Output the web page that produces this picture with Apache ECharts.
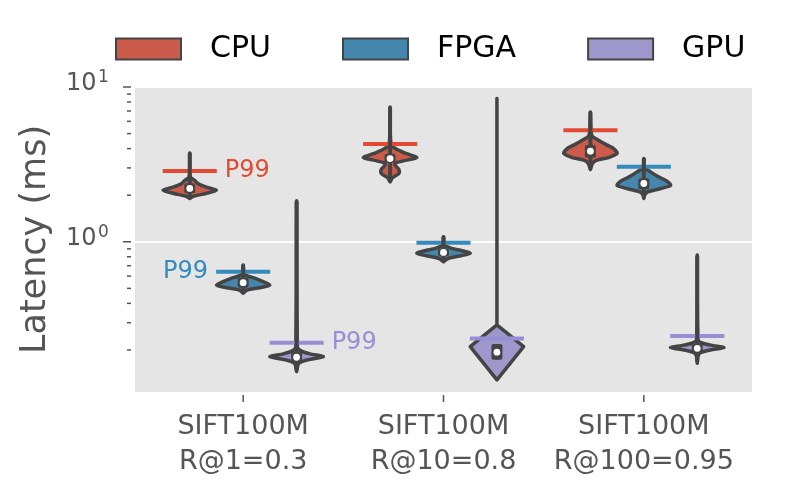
<!DOCTYPE html>
<html><head><meta charset="utf-8">
<script src="https://cdn.jsdelivr.net/npm/echarts@6/dist/echarts.min.js"></script>
<style>html,body{margin:0;padding:0;background:#fff}#c{width:788px;height:493px}</style>
</head><body><div id="c"></div>
<script>
// ---------- data ----------
const categories = ['SIFT100M\nR@1=0.3', 'SIFT100M\nR@10=0.8', 'SIFT100M\nR@100=0.95'];
const hues = ['CPU', 'FPGA', 'GPU'];
const xTicks = [0, 1, 2];
const yMajorTicks = [1, 10];
const yMajorExponents = ['0', '1'];
const yMinorTicks = [0.2, 0.3, 0.4, 0.5, 0.6, 0.7, 0.8, 0.9, 2, 3, 4, 5, 6, 7, 8, 9];

// violin outlines: [latency (ms), relative density]
const cpuProfiles = [
  [[3.75,0],[2.63,0.02],[2.5,0.18],[2.38,0.3],[2.26,0.6],[2.155,1],[2.05,0.6],[1.97,0.15],[1.905,0]],
  [[7.43,0],[4.31,0.03],[4.0,0.2],[3.72,0.6],[3.5,1],[3.33,0.5],[3.21,0.18],[3.08,0.22],[2.93,0.33],[2.76,0.33],[2.6,0.1],[2.44,0]],
  [[6.9,0],[4.88,0.05],[4.53,0.3],[4.21,0.63],[4.0,0.87],[3.72,1],[3.5,0.68],[3.37,0.25],[3.21,0.08],[2.93,0]]
];
const fpgaProfiles = [
  [[0.707,0],[0.657,0.02],[0.61,0.1],[0.58,0.45],[0.552,0.75],[0.525,1],[0.508,0.7],[0.488,0.15],[0.465,0]],
  [[1.077,0],[0.952,0.04],[0.906,0.3],[0.875,0.7],[0.842,1],[0.809,0.6],[0.777,0.15],[0.743,0]],
  [[3.45,0],[3.02,0.03],[2.83,0.25],[2.63,0.55],[2.44,0.9],[2.31,1],[2.2,0.6],[2.1,0.15],[2.0,0.03],[1.905,0]]
];
const gpuProfiles = [
  [[1.84,0],[0.21,0.03],[0.198,0.15],[0.1886,0.5],[0.181,1],[0.1725,0.4],[0.164,0.08],[0.145,0]],
  [[8.42,0],[0.29,0],[0.21,1],[0.128,0]],
  [[0.821,0],[0.232,0.03],[0.221,0.2],[0.2134,0.6],[0.207,1],[0.2,0.5],[0.192,0.12],[0.183,0.03],[0.164,0]]
];
const cpuMedian = [2.21, 3.45, 3.85];
const fpgaMedian = [0.544, 0.854, 2.38];
const gpuMedian = [0.1795, 0.1934, 0.205];
const cpuQuartiles = [[2.12, 2.32], [3.35, 3.6], [3.6, 4.1]];
const fpgaQuartiles = [[0.52, 0.57], [0.83, 0.875], [2.25, 2.5]];
const gpuQuartiles = [[0.173, 0.188], [0.178, 0.212], [0.198, 0.212]];
const cpuWhiskers = [[1.95, 3.7], [2.5, 7.3], [3.0, 6.8]];
const fpgaWhiskers = [[0.47, 0.70], [0.75, 1.07], [1.95, 3.4]];
const gpuWhiskers = [[0.15, 1.8], [0.178, 0.212], [0.17, 0.8]];
const cpuP99 = [2.87, 4.29, 5.26];
const fpgaP99 = [0.64, 0.985, 3.05];
const gpuP99 = [0.223, 0.237, 0.246];
const p99LabelText = 'P99';

// ---------- styling ----------
const profiles = [cpuProfiles, fpgaProfiles, gpuProfiles];
const medians = [cpuMedian, fpgaMedian, gpuMedian];
const quartiles = [cpuQuartiles, fpgaQuartiles, gpuQuartiles];
const whiskers = [cpuWhiskers, fpgaWhiskers, gpuWhiskers];
const p99s = [cpuP99, fpgaP99, gpuP99];
const fills = ['#CB5B4A', '#4586AC', '#9E97CC'];
const lineColors = ['#E24A33', '#348ABD', '#988ED5'];
const edge = '#444444';
const tickColor = '#555555';
const hueOffsets = [-0.2667, 0, 0.2667];
const halfWidth = 0.1333;
const p99Half = 0.135;
const labelSide = [1, -1, 1];
const FONT = '"DejaVu Sans", sans-serif';

function makeSeries(h) {
  return {
    type: 'custom',
    name: hues[h],
    itemStyle: { color: fills[h] },
    data: categories.map((c, g) => [g]),
    encode: { x: 0 },
    clip: false,
    renderItem: function (params, api) {
      const g = params.dataIndex;
      const cx = g + hueOffsets[h];
      const prof = profiles[h][g];
      const right = prof.map(p => api.coord([cx + p[1] * halfWidth, p[0]]));
      const left = prof.slice().reverse().map(p => api.coord([cx - p[1] * halfWidth, p[0]]));
      const pts = right.concat(left);
      const p = p99s[h][g];
      const pL = api.coord([cx - p99Half, p]);
      const pR = api.coord([cx + p99Half, p]);
      const w = whiskers[h][g];
      const wT = api.coord([cx, w[1]]), wB = api.coord([cx, w[0]]);
      const q = quartiles[h][g];
      const qT = api.coord([cx, q[1]]), qB = api.coord([cx, q[0]]);
      const m = api.coord([cx, medians[h][g]]);
      const children = [
        { type: 'polygon', shape: { points: pts, smooth: prof.length > 4 ? 0.25 : 0 },
          style: { fill: fills[h], stroke: edge, lineWidth: 3.5, lineJoin: 'round' } },
        { type: 'line', shape: { x1: pL[0], y1: pL[1], x2: pR[0], y2: pR[1] },
          style: { stroke: lineColors[h], lineWidth: 4 } },
        { type: 'line', shape: { x1: wT[0], y1: wT[1], x2: wB[0], y2: wB[1] },
          style: { stroke: edge, lineWidth: 4, lineCap: 'round' } },
        { type: 'rect', shape: { x: qT[0] - 5.5, y: qT[1] - 2, width: 11, height: qB[1] - qT[1] + 4, r: 2 },
          style: { fill: edge } },
        { type: 'circle', shape: { cx: m[0], cy: m[1], r: 3.4 }, style: { fill: '#ffffff' } }
      ];
      if (g === 0) {
        const s = labelSide[h];
        children.push({
          type: 'text',
          x: s > 0 ? pR[0] + 8 : pL[0] - 8,
          y: pR[1],
          style: { text: p99LabelText, fill: lineColors[h], font: '24px ' + FONT,
                   align: s > 0 ? 'left' : 'right', verticalAlign: 'middle' }
        });
      }
      return { type: 'group', children: children };
    }
  };
}

// y major ticks with "10^n" labels
const yMajorSeries = {
  type: 'custom', name: 'yMajor', silent: true, clip: false,
  data: yMajorTicks.map((v, i) => [0, v, i]),
  encode: { x: 0, y: 1 },
  renderItem: function (params, api) {
    const y = api.coord([0, api.value(1)])[1];
    const x0 = params.coordSys.x - 4;
    const exp = yMajorExponents[api.value(2)];
    return { type: 'group', children: [
      { type: 'line', shape: { x1: x0 - 8, y1: y, x2: x0, y2: y },
        style: { stroke: tickColor, lineWidth: 1.5 } },
      { type: 'text', x: x0 - 33, y: y - 9,
        style: { text: exp, fill: '#555', font: '17px ' + FONT, align: 'left', verticalAlign: 'middle' } },
      { type: 'text', x: x0 - 34.5, y: y - 3,
        style: { text: '10', fill: '#555', font: '24px ' + FONT, align: 'right', verticalAlign: 'middle' } }
    ] };
  }
};
// y minor ticks
const yMinorSeries = {
  type: 'custom', name: 'yMinor', silent: true, clip: false,
  data: yMinorTicks.map(v => [0, v]),
  encode: { x: 0, y: 1 },
  renderItem: function (params, api) {
    const y = api.coord([0, api.value(1)])[1];
    const x0 = params.coordSys.x - 4;
    return { type: 'line', shape: { x1: x0 - 4, y1: y, x2: x0, y2: y },
             style: { stroke: tickColor, lineWidth: 1.5 } };
  }
};
const xTickSeries = {
  type: 'custom', name: 'xTicks', silent: true, clip: false,
  data: xTicks.map(v => [v, 1]),
  encode: { x: 0, y: 1 },
  renderItem: function (params, api) {
    const x = api.coord([api.value(0), 1])[0];
    const y0 = params.coordSys.y + params.coordSys.height + 3;
    return { type: 'line', shape: { x1: x, y1: y0, x2: x, y2: y0 + 7 },
             style: { stroke: tickColor, lineWidth: 1.5 } };
  }
};

const chart = echarts.init(document.getElementById('c'), null, { renderer: 'canvas' });
chart.setOption({
  animation: false,
  backgroundColor: '#ffffff',
  textStyle: { fontFamily: FONT },
  legend: {
    top: 34, left: 115, padding: 0,
    icon: 'rect', itemWidth: 65, itemHeight: 21, itemGap: 71,
    itemStyle: { borderColor: edge, borderWidth: 2 },
    textStyle: { fontSize: 30, color: '#000', fontFamily: FONT, padding: [0, 0, 0, 24] },
    data: hues
  },
  grid: { left: 135, right: 36, top: 87, bottom: 101, show: true, backgroundColor: '#E5E5E5', borderWidth: 0 },
  xAxis: {
    type: 'value', min: -0.54, max: 2.54,
    axisLine: { show: false },
    splitLine: { show: false },
    axisTick: { show: false, customValues: xTicks },
    axisLabel: {
      customValues: xTicks,
      formatter: v => categories[Math.round(v)],
      color: '#555', fontSize: 27, lineHeight: 35, margin: 17, fontFamily: FONT
    }
  },
  yAxis: {
    type: 'log', min: 0.107, max: 10,
    name: 'Latency (ms)', nameLocation: 'middle', nameGap: 82,
    nameTextStyle: { fontSize: 35, color: '#555', fontFamily: FONT },
    axisLine: { show: false },
    axisTick: { show: false, customValues: yMajorTicks },
    splitLine: { show: true, lineStyle: { color: '#ffffff', width: 2 } },
    axisLabel: { show: false, customValues: yMajorTicks }
  },
  series: [makeSeries(0), makeSeries(1), makeSeries(2), yMajorSeries, yMinorSeries, xTickSeries]
});
</script>
</body></html>
